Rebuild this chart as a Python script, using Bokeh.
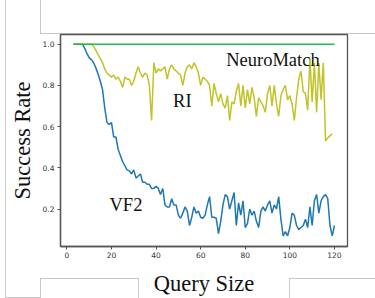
from bokeh.plotting import figure
from bokeh.models import Range1d, Label, FixedTicker
from bokeh.embed import file_html
from bokeh.resources import INLINE

# ---------------- data ----------------
x_ticks = [0, 20, 40, 60, 80, 100, 120]
x_tick_labels = ["0", "20", "40", "60", "80", "100", "120"]
y_ticks = [0.2, 0.4, 0.6, 0.8, 1.0]
y_tick_labels = ["0.2", "0.4", "0.6", "0.8", "1.0"]

neuromatch_x = [3, 120]
neuromatch = [1.0, 1.0]

vf2_start = 3
vf2 = [1.0, 1.0, 1.0, 1.0, 1.0, 0.98, 0.955, 0.935, 0.925, 0.91,
       0.885, 0.855, 0.82, 0.78, 0.69, 0.62, 0.61, 0.62, 0.55, 0.55,
       0.49, 0.46, 0.43, 0.41, 0.39, 0.385, 0.37, 0.39, 0.35, 0.36,
       0.37, 0.33, 0.33, 0.32, 0.32, 0.30, 0.30, 0.31, 0.30, 0.27,
       0.30, 0.22, 0.21, 0.21, 0.25, 0.22, 0.22, 0.17, 0.155, 0.18,
       0.21, 0.19, 0.12, 0.16, 0.21, 0.18, 0.19, 0.16, 0.155, 0.17,
       0.22, 0.26, 0.16, 0.16, 0.155, 0.08, 0.14, 0.22, 0.27, 0.26,
       0.20, 0.24, 0.28, 0.12, 0.23, 0.17, 0.24, 0.11, 0.13, 0.20,
       0.17, 0.19, 0.14, 0.11, 0.19, 0.21, 0.19, 0.22, 0.24, 0.18,
       0.22, 0.20, 0.26, 0.15, 0.07, 0.09, 0.07, 0.11, 0.18, 0.17,
       0.12, 0.10, 0.11, 0.12, 0.15, 0.11, 0.21, 0.12, 0.24, 0.27,
       0.18, 0.24, 0.26, 0.27, 0.25, 0.12, 0.07, 0.12]

ri_start = 3
ri = [1.0, 1.0, 1.0, 1.0, 1.0, 1.0, 1.0, 1.0, 1.0, 0.99,
      0.97, 0.95, 0.93, 0.91, 0.88, 0.86, 0.85, 0.84, 0.85, 0.83,
      0.84, 0.82, 0.79, 0.84, 0.83, 0.83, 0.80, 0.82, 0.86, 0.89,
      0.86, 0.84, 0.86, 0.85, 0.80, 0.63, 0.91, 0.86, 0.88, 0.87,
      0.88, 0.89, 0.83, 0.88, 0.90, 0.88, 0.87, 0.86, 0.85, 0.80,
      0.86, 0.89, 0.90, 0.88, 0.91, 0.89, 0.86, 0.80, 0.84, 0.83,
      0.82, 0.80, 0.70, 0.81, 0.76, 0.72, 0.76, 0.71, 0.69, 0.75,
      0.63, 0.72, 0.71, 0.77, 0.81, 0.70, 0.80, 0.69, 0.78, 0.71,
      0.79, 0.74, 0.65, 0.74, 0.72, 0.70, 0.67, 0.76, 0.80, 0.70,
      0.80, 0.71, 0.65, 0.75, 0.78, 0.80, 0.73, 0.75, 0.71, 0.63,
      0.74, 0.83, 0.87, 0.77, 0.76, 0.68, 0.93, 0.72, 0.91, 0.67,
      0.91, 0.73, 0.91, 0.53, 0.545, 0.555, 0.565]

series_names = ["NeuroMatch", "RI", "VF2"]
label_pos_x = [92.4, 51.8, 26.5]
label_pos_y = [0.923, 0.725, 0.219]

vf2_x = list(range(vf2_start, vf2_start + len(vf2)))
ri_x = list(range(ri_start, ri_start + len(ri)))

# decorative slide-frame lines behind the chart: (left, top, width, height) in px
deco = [
    (5, 0, 1, 297), (5, 297, 35, 1), (40, 278, 1, 20), (40, 278, 98, 1),
    (138, 278, 1, 20), (289, 278, 1, 20), (289, 278, 86, 1),
    (40, 0, 1, 34), (40, 33, 335, 1),
]
deco_css = {
    "background-color": "white",
    "background-image": ", ".join(["linear-gradient(#c8c8c8, #c8c8c8)"] * len(deco)),
    "background-size": ", ".join(f"{w}px {h}px" for _, _, w, h in deco),
    "background-position": ", ".join(f"{l}px {t}px" for l, t, _, _ in deco),
    "background-repeat": "no-repeat",
}

# ---------------- figure ----------------
p = figure(width=375, height=298, output_backend="svg", toolbar_location=None,
           x_range=Range1d(-2.85, 125.85), y_range=Range1d(0.018, 1.047),
           min_border_left=60, min_border_right=28, min_border_top=34, min_border_bottom=51)
p.styles = deco_css
p.background_fill_color = "white"
p.border_fill_alpha = 0
p.outline_line_color = "#555555"
p.outline_line_width = 1.3
p.grid.visible = False

p.line(vf2_x, vf2, line_color="#1f77b4", line_width=1.5)
p.line(ri_x, ri, line_color="#c2c22a", line_width=1.5)
p.line(neuromatch_x, neuromatch, line_color="#20bb48", line_width=1.5)

for name, lx, ly in zip(series_names, label_pos_x, label_pos_y):
    p.add_layout(Label(x=lx, y=ly, text=name, text_align="center", text_baseline="alphabetic",
                       text_font="Liberation Serif", text_font_size="18.5px", text_color="#111111"))

for ax in (p.xaxis[0], p.yaxis[0]):
    ax.axis_line_color = "#555555"
    ax.axis_line_width = 1.3
    ax.major_tick_line_color = "#555555"
    ax.major_tick_in = 0
    ax.major_tick_out = 3
    ax.minor_tick_line_color = None
    ax.major_label_text_font = "DejaVu Sans"
    ax.major_label_text_font_size = "7.5px"
    ax.major_label_text_color = "#333333"
    ax.axis_label_text_font = "Liberation Serif"
    ax.axis_label_text_font_size = "22.5px"
    ax.axis_label_text_font_style = "normal"
    ax.axis_label_text_color = "#111111"

p.xaxis[0].ticker = FixedTicker(ticks=x_ticks)
p.xaxis[0].major_label_overrides = dict(zip(x_ticks, x_tick_labels))
p.yaxis[0].ticker = FixedTicker(ticks=y_ticks)
p.yaxis[0].major_label_overrides = dict(zip(y_ticks, y_tick_labels))
p.xaxis[0].axis_label = "Query Size"
p.yaxis[0].axis_label = "Success Rate"
p.xaxis[0].major_label_standoff = 2
p.yaxis[0].major_label_standoff = 3
p.xaxis[0].axis_label_standoff = 10
p.yaxis[0].axis_label_standoff = 5

open("out.html", "w").write(file_html(p, INLINE))
